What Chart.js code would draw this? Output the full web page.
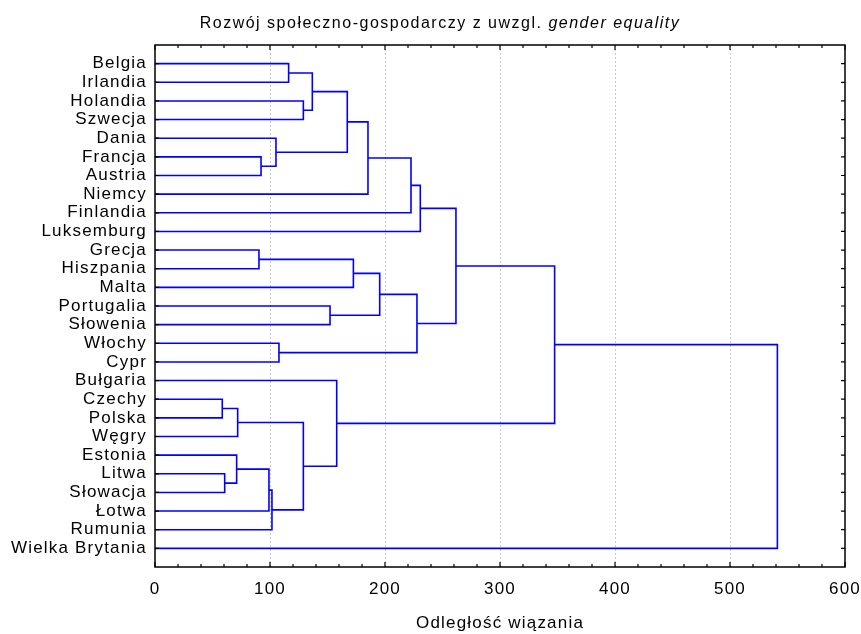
<!DOCTYPE html>
<html>
<head>
<meta charset="utf-8">
<script src="https://cdn.jsdelivr.net/npm/chart.js@4.4.1/dist/chart.umd.min.js"></script>
<style>
    body { margin: 0; background: #fff; }
    #wrap { width: 861px; height: 634px; }
</style>
</head>
<body>
<div id="wrap"><canvas id="dendroChart" width="861" height="634"></canvas></div>
<script>
// Liście dendrogramu (od góry do dołu)
const leaves = ['Belgia', 'Irlandia', 'Holandia', 'Szwecja', 'Dania', 'Francja', 'Austria', 'Niemcy',
    'Finlandia', 'Luksemburg', 'Grecja', 'Hiszpania', 'Malta', 'Portugalia', 'Słowenia', 'Włochy', 'Cypr',
    'Bułgaria', 'Czechy', 'Polska', 'Węgry', 'Estonia', 'Litwa', 'Słowacja', 'Łotwa', 'Rumunia', 'Wielka Brytania'];

// Połączenia: indeks < 27 to liść, >= 27 to skupienie utworzone w kroku (indeks - 27)
const mergeLeft  = [18, 22, 21, 27, 10, 5, 29, 33, 4, 15, 0, 2, 30, 37, 13, 17, 40, 31, 43, 44, 45, 46, 47, 49, 50, 51];
const mergeRight = [19, 23, 28, 20, 11, 6, 24, 25, 32, 16, 1, 3, 34, 38, 14, 39, 35, 12, 7, 41, 8, 36, 9, 48, 42, 26];
const mergeHeight = [58.5, 60.6, 71.0, 71.9, 90.4, 92.2, 99.1, 101.7, 105.2, 107.8, 116.2, 129.0, 129.0, 136.8,
    152.2, 158.0, 167.2, 172.5, 185.2, 195.4, 222.6, 227.8, 230.7, 261.7, 347.5, 541.2];

// Ticki osi X
const xTicks = [0, 100, 200, 300, 400, 500, 600];

const FONT = "'Liberation Sans', Arial, sans-serif";
const SPACING = '1.2px';
const n = leaves.length;

// Pozycja (wysokość, y) dla liścia lub skupienia
const nodeH = [], nodeY = [];
leaves.forEach((_, i) => { nodeH[i] = 0; nodeY[i] = i; });
mergeHeight.forEach((h, k) => {
    const a = mergeLeft[k], b = mergeRight[k];
    nodeH[n + k] = h;
    nodeY[n + k] = (nodeY[a] + nodeY[b]) / 2;
});

// Jeden dataset na każde połączenie (kształt "U")
const datasets = mergeHeight.map((h, k) => {
    const a = mergeLeft[k], b = mergeRight[k];
    return {
        data: [
            { x: nodeH[a], y: nodeY[a] },
            { x: h, y: nodeY[a] },
            { x: h, y: nodeY[b] },
            { x: nodeH[b], y: nodeY[b] }
        ],
        showLine: true,
        borderColor: '#0000ff',
        borderWidth: 1.6,
        pointRadius: 0,
        tension: 0
    };
});

// Odstępy między literami jak w oryginale
const spacingPlugin = {
    id: 'spacing',
    beforeUpdate(chart) { chart.ctx.letterSpacing = SPACING; },
    beforeDraw(chart) { chart.ctx.letterSpacing = SPACING; }
};

// Ramka, znaczniki do środka i tytuł
const framePlugin = {
    id: 'frame',
    afterDraw(chart) {
        const { ctx, chartArea: a, scales } = chart;
        ctx.save();
        ctx.strokeStyle = '#000';
        ctx.lineWidth = 1.5;
        ctx.strokeRect(a.left, a.top, a.right - a.left, a.bottom - a.top);

        ctx.lineWidth = 1.2;
        ctx.beginPath();
        for (let v = 0; v <= 600; v += 20) {
            const px = scales.x.getPixelForValue(v);
            const len = v % 100 === 0 ? 5 : 3;
            ctx.moveTo(px, a.bottom); ctx.lineTo(px, a.bottom - len);
            ctx.moveTo(px, a.top); ctx.lineTo(px, a.top + len);
        }
        leaves.forEach((_, i) => {
            const py = scales.y.getPixelForValue(i);
            ctx.moveTo(a.left, py); ctx.lineTo(a.left + 4, py);
            ctx.moveTo(a.right, py); ctx.lineTo(a.right - 4, py);
        });
        ctx.stroke();

        // Tytuł: część zwykła + kursywa
        ctx.letterSpacing = '1.5px';
        ctx.fillStyle = '#000';
        ctx.textBaseline = 'alphabetic';
        ctx.textAlign = 'left';
        const part1 = 'Rozwój społeczno-gospodarczy z uwzgl. ';
        const part2 = 'gender equality';
        ctx.font = '16px ' + FONT;
        const w1 = ctx.measureText(part1).width;
        ctx.font = 'italic 16px ' + FONT;
        const w2 = ctx.measureText(part2).width;
        const x0 = 440 - (w1 + w2) / 2;
        ctx.font = '16px ' + FONT;
        ctx.fillText(part1, x0, 28);
        ctx.font = 'italic 16px ' + FONT;
        ctx.fillText(part2, x0 + w1, 28);
        ctx.restore();
    }
};

const ctx = document.getElementById('dendroChart').getContext('2d');
const dendroChart = new Chart(ctx, {
    type: 'scatter',
    data: { datasets },
    options: {
        responsive: false,
        animation: false,
        layout: { padding: { top: 45, right: 16, left: 0, bottom: 0 } },
        plugins: {
            legend: { display: false },
            tooltip: { enabled: false }
        },
        scales: {
            x: {
                type: 'linear',
                min: 0,
                max: 600,
                afterBuildTicks: s => { s.ticks = xTicks.map(v => ({ value: v })); },
                afterFit: s => { s.height = 67; s.paddingLeft = 0; s.paddingRight = 0; },
                ticks: {
                    color: '#000',
                    font: { family: FONT, size: 17 },
                    padding: 12,
                    maxRotation: 0
                },
                grid: {
                    drawTicks: false,
                    lineWidth: 1,
                    color: c => (c.tick && c.tick.value > 0 && c.tick.value < 600) ? '#c8c8c8' : 'rgba(0,0,0,0)'
                },
                border: { display: false, dash: [2, 2] },
                title: {
                    display: true,
                    text: 'Odległość wiązania',
                    color: '#000',
                    font: { family: FONT, size: 17 },
                    padding: { top: 0, bottom: 0 }
                }
            },
            y: {
                type: 'linear',
                reverse: true,
                min: -1,
                max: n,
                afterBuildTicks: s => { s.ticks = leaves.map((_, i) => ({ value: i })); },
                afterFit: s => { s.width = 155; s.paddingTop = 0; s.paddingBottom = 0; },
                ticks: {
                    color: '#000',
                    font: { family: FONT, size: 17 },
                    padding: 8,
                    autoSkip: false,
                    callback: v => leaves[v] ?? ''
                },
                grid: { display: false, drawTicks: false },
                border: { display: false }
            }
        }
    },
    plugins: [spacingPlugin, framePlugin]
});
</script>
</body>
</html>
